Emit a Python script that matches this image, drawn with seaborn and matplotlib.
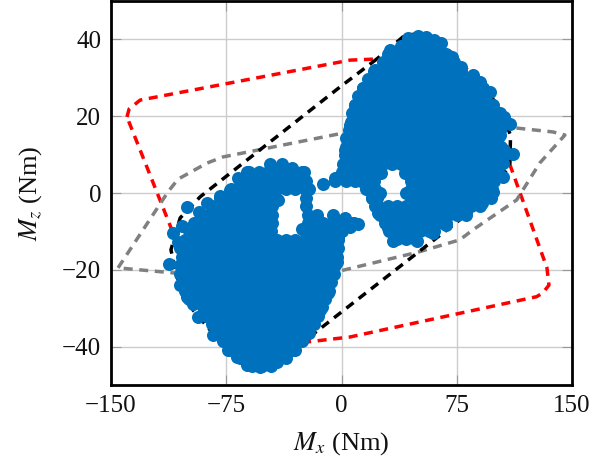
import numpy as np
import pandas as pd
import matplotlib
matplotlib.use("Agg")
import matplotlib.pyplot as plt
import seaborn as sns

# limit polygons (Mx, Mz in Nm)
red_mx = [-139.6, -138.2, -131, 5.5, 23, 64, 90, 105, 115.5, 133.7, 135, 131, 127, 5.5, -22.4, -53, -82, -109.6, -139.6]
red_mz = [19.8, 21.9, 24.2, 34.6, 34.9, 34.6, 24.2, 12.5, 0.8, -19.5, -24, -26, -27, -37.5, -38.8, -39.6, -34.4, -10.4, 19.8]
black_mx = [23, -1, -92, -105, -111, -107, -96.6, -77.7, -56, -40, -25, -1, 75, 93, 103, 109.6, 110, 103, 75.8, 68.6, 54, 41, 23]
black_mz = [34.9, 27.6, -1, -6.5, -14.8, -22, -30.5, -39.3, -45.6, -43.5, -38.8, -31.3, -7.6, -1.8, 2.9, 7.8, 15, 22.4, 34.9, 37.8, 41.7, 41, 34.9]
gray_mx = [-145.4, -112.9, -106.4, -87.5, -77, 1, 114.2, 137.6, 145.4, 129, 114, 85.5, 77, 49.8, -1, -109.6, -145.4]
gray_mz = [-19.5, 0.3, 3.6, 7.8, 9.4, 15.6, 16.9, 15.9, 15.1, 7.8, -1.8, -9.6, -12.2, -15.4, -20.3, -20.8, -19.5]

# measured points on the rim of the two clouds and round the two holes
rim_mx = [43, 50, 55, 60, 65, 72, 78, 85.5, 90, 96.6, 98.6, 105.7, 109.6, 103, 106, 111.6, 105, 105, 98.6,
          91.4, 81, 69.3, 68, 59.5, 49, 33.5, 30, 23.7, 20, 14, -4.2, -12, 1, 2.3, 5.5, 8.8, 14, 21.8, 31.5,
          -46.5, -38.7, -32, -24.4, -61.5, -67.3, -53, -72.5, -79, -87.5, -100.5, -93, -103.8, -109.6, -106.4,
          -112.2, -105, -100.5, -96.6, -93.4, -86.9, -83.6, -73.8, -68, -61.5, -53, -42, -31.6, -21.8, -14,
          -8.8, -3, -2.3, 5.5, -5.5, 2.3, 10.7, -16,
          26, 41, 25, 42, -41, -26]
rim_mz = [40.4, 40.9, 40.6, 39.8, 39, 35.4, 32.8, 30.7, 28.9, 26.3, 22.9, 19.8, 18, 15, 11.2, 10.2, 7.8, 4.2, 0.3,
          -2.6, -4.9, -4.4, -8.3, -10.4, -12.5, -12.5, -9, -5.2, -1.3, 2.9, 3.9, 2.3, 5.5, 11.2, 17.7, 22.9, 27.3, 32, 37.2,
          7.6, 7.6, 6.5, 5.5, 5.5, 3.9, 3.9, 0.8, -0.8, -2.6, -3.6, -5, -8.6, -10.4, -12.8,
          -18.5, -24, -27, -29, -32.3, -31.8, -37, -40.9, -42.7, -44.8, -45.3, -44, -40.9, -36.5, -30.5,
          -26, -18, -11.5, -8.9, -5.7, -6.5, -8, -7,
          5.2, 5.2, 0, 0, -1.8, -9.5]

# interior of the clouds, one list of Mx per Mz level
upper_levels = [38.4, 36.2, 34, 31.8, 29.6, 27.4, 25.2, 23, 20.8, 18.6, 16.4, 14.2, 12, 9.8, 7.6, 5.4, 3.2, 1, -1.2, -3.4, -5.6, -7.8, -10, -12]
upper_rows = [
    [39, 45, 51, 57, 63],
    [30, 36, 42, 48, 54, 60, 66, 68],
    [27, 33, 39, 45, 51, 57, 63, 69, 73],
    [21, 24, 30, 36, 42, 48, 54, 60, 66, 72, 78],
    [17, 21, 27, 33, 39, 45, 51, 57, 63, 69, 75, 81, 86],
    [14, 18, 24, 30, 36, 42, 48, 54, 60, 66, 72, 78, 84, 90, 92],
    [11, 15, 21, 27, 33, 39, 45, 51, 57, 63, 69, 75, 81, 87, 93],
    [9, 12, 18, 24, 30, 36, 42, 48, 54, 60, 66, 72, 78, 84, 90, 96],
    [7, 9, 15, 21, 27, 33, 39, 45, 51, 57, 63, 69, 75, 81, 87, 93, 99, 103],
    [6, 12, 18, 24, 30, 36, 42, 48, 54, 60, 66, 72, 78, 84, 90, 96, 102, 107],
    [5, 9, 15, 21, 27, 33, 39, 45, 51, 57, 63, 69, 75, 81, 87, 93, 99, 103],
    [3, 6, 12, 18, 24, 30, 36, 42, 48, 54, 60, 66, 72, 78, 84, 90, 96, 102],
    [3, 9, 15, 21, 27, 33, 39, 45, 51, 57, 63, 69, 75, 81, 87, 93, 99, 104],
    [2, 6, 12, 18, 24, 30, 36, 42, 48, 54, 60, 66, 72, 78, 84, 90, 96, 102, 106],
    [1, 3, 9, 15, 21, 27, 33, 39, 45, 51, 57, 63, 69, 75, 81, 87, 93, 99, 104],
    [0, 6, 12, 18, 22, 45, 48, 54, 60, 66, 72, 78, 84, 90, 96, 102],
    [-4, 3, 9, 15, 21, 45, 51, 57, 63, 69, 75, 81, 87, 93, 99],
    [16, 22, 45, 48, 54, 60, 66, 72, 78, 84, 90, 96, 98],
    [20, 23, 45, 51, 57, 63, 69, 75, 81, 87, 93, 97],
    [22, 24, 30, 36, 42, 48, 54, 60, 66, 72, 78, 84, 90],
    [25, 27, 33, 39, 45, 51, 57, 63, 69, 75, 81],
    [28, 30, 36, 42, 48, 54, 60, 66, 68],
    [31, 33, 39, 45, 51, 57, 60],
    [36, 42, 48],
]
lower_levels = [5.4, 3.2, 1, -1.2, -3.4, -5.6, -7.8, -10, -12.2, -14.4, -16.6, -18.8, -21, -23.2, -25.4, -27.6, -29.8, -32, -34.2, -36.4, -38.6, -40.8, -43, -45]
lower_rows = [
    [-60, -54, -48, -42, -36, -30, -26],
    [-66, -63, -57, -51, -45, -39, -33, -27, -23],
    [-72, -66, -60, -54, -48, -42, -36, -30, -24, -21],
    [-79, -75, -69, -63, -57, -51, -45, -23],
    [-84, -78, -72, -66, -60, -54, -48, -45, -23],
    [-87, -81, -75, -69, -63, -57, -51, -45, -22, -16],
    [-96, -90, -84, -78, -72, -66, -60, -54, -48, -45, -22, -18, -12, -6, 0, 6, 8],
    [-99, -93, -87, -81, -75, -69, -63, -57, -51, -46, -24, -21, -15, -9, -3, 0],
    [-102, -96, -90, -84, -78, -72, -66, -60, -54, -48, -42, -36, -30, -24, -18, -12, -6, -2],
    [-105, -99, -93, -87, -81, -75, -69, -63, -57, -51, -45, -39, -33, -27, -21, -15, -9, -3, -2],
    [-104, -102, -96, -90, -84, -78, -72, -66, -60, -54, -48, -42, -36, -30, -24, -18, -12, -6, -3],
    [-105, -99, -93, -87, -81, -75, -69, -63, -57, -51, -45, -39, -33, -27, -21, -15, -9, -4],
    [-105, -102, -96, -90, -84, -78, -72, -66, -60, -54, -48, -42, -36, -30, -24, -18, -12, -6, -5],
    [-102, -99, -93, -87, -81, -75, -69, -63, -57, -51, -45, -39, -33, -27, -21, -15, -9, -7],
    [-102, -96, -90, -84, -78, -72, -66, -60, -54, -48, -42, -36, -30, -24, -18, -12, -8],
    [-99, -93, -87, -81, -75, -69, -63, -57, -51, -45, -39, -33, -27, -21, -15, -11],
    [-90, -84, -78, -72, -66, -60, -54, -48, -42, -36, -30, -24, -18, -13],
    [-88, -87, -81, -75, -69, -63, -57, -51, -45, -39, -33, -27, -21, -15],
    [-84, -78, -72, -66, -60, -54, -48, -42, -36, -30, -24, -18],
    [-79, -75, -69, -63, -57, -51, -45, -39, -33, -27, -21],
    [-77, -72, -66, -60, -54, -48, -42, -36, -30, -26],
    [-72, -69, -63, -57, -51, -45, -39, -33, -30],
    [-66, -60, -54, -48, -42, -36],
    [-58, -52, -46],
]
xtick_vals = [-150, -75, 0, 75, 150]
ytick_vals = [-40, -20, 0, 20, 40]

cloud_mx = list(rim_mx)
cloud_mz = list(rim_mz)
for level, row in zip(upper_levels + lower_levels, upper_rows + lower_rows):
    cloud_mx += row
    cloud_mz += [level] * len(row)
cloud = pd.DataFrame({"mx": cloud_mx, "mz": cloud_mz})

sns.set_style("white")
plt.rcParams["font.family"] = ["Liberation Serif", "DejaVu Serif"]
plt.rcParams["mathtext.fontset"] = "stix"

fig = plt.figure(figsize=(6.08, 4.63), dpi=100)
ax = fig.add_axes([111 / 608, 1 - 385 / 463, 461 / 608, 384 / 463])

for xs, ys, col in [(red_mx, red_mz, "#ff0000"), (gray_mx, gray_mz, "#808080"), (black_mx, black_mz, "#000000")]:
    sns.lineplot(x=xs, y=ys, sort=False, estimator=None, color=col, linewidth=2.5, ax=ax, zorder=2)
    # dash lengths are in line widths here
    ax.lines[-1].set_dashes((2.6, 1.9))
    ax.lines[-1].set_dash_capstyle("butt")

sns.scatterplot(data=cloud, x="mx", y="mz", color="#0072BD", s=88, linewidth=0, ax=ax, zorder=3)

ax.set_xlim(-150, 150)
ax.set_ylim(-50, 50)
ax.set_xticks(xtick_vals)
ax.set_yticks(ytick_vals)
ax.set_xticklabels(["\u2212150", "\u221275", "0", "75", "150"])
ax.set_yticklabels(["\u221240", "\u221220", "0", "20", "40"])
ax.grid(True, color="#cccccc", linewidth=1.0)
ax.set_axisbelow(True)
ax.tick_params(direction="in", length=7.5, width=0.8, color="#999999", labelsize=18,
               top=True, right=True, bottom=True, left=True, pad=7, labelcolor="#111111")
ax.set_xlabel("$M_x$ (Nm)", fontsize=19, labelpad=10, color="#111111")
ax.set_ylabel("$M_z$ (Nm)", fontsize=19, labelpad=13, color="#111111")
for sp in ax.spines.values():
    sp.set_color("black")
    sp.set_linewidth(2.0)

fig.savefig("out.png", dpi=100)
